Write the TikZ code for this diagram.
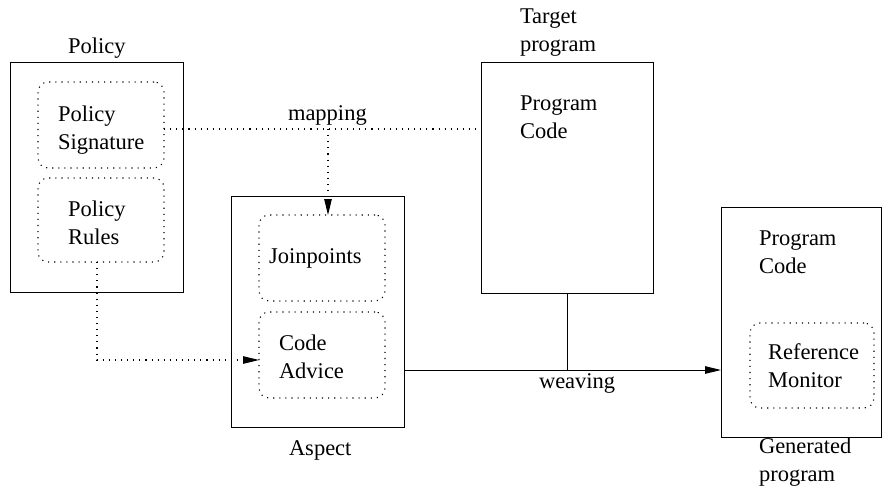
\documentclass[tikz,border=0pt]{standalone}
\usepackage{fontspec}
\setmainfont{Liberation Serif}
\usetikzlibrary{arrows.meta}
\begin{document}
\begin{tikzpicture}[x=1pt,y=-1pt,
  box/.style={draw, line width=1pt, inner sep=0pt, outer sep=0pt},
  dbox/.style={draw, line width=1.1pt, dash pattern=on 1.1pt off 5pt, rounded corners=10pt, inner sep=0pt, outer sep=0pt},
  dline/.style={line width=1.1pt, dash pattern=on 1.1pt off 5pt},
  sline/.style={line width=1pt},
  tip/.style={-{Triangle[length=16pt,width=7.5pt]}},
  lbl/.style={anchor=base west, inner sep=0pt, outer sep=0pt, align=left, font=\fontsize{22.5}{28}\selectfont}]
\useasboundingbox (0,0) rectangle (883,488);
% boxes
\node[box, minimum width=173pt, minimum height=230pt] (policy) at (96.5,177) {};
\node[dbox, minimum width=126pt, minimum height=86pt] (sig) at (101,125) {};
\node[dbox, minimum width=126pt, minimum height=84pt] (rules) at (101,220) {};
\node[box, minimum width=173pt, minimum height=231pt] (aspect) at (317.5,311.5) {};
\node[dbox, minimum width=126pt, minimum height=86pt] (join) at (322,258) {};
\node[dbox, minimum width=126pt, minimum height=86pt] (advice) at (322,355) {};
\node[box, minimum width=172pt, minimum height=231pt] (target) at (567,177.5) {};
\node[box, minimum width=160pt, minimum height=230pt] (gen) at (801,322) {};
\node[dbox, minimum width=124pt, minimum height=85pt] (refmon) at (812,365.5) {};
% labels (anchor = baseline of the last line)
\node[lbl] (tpolicy) at (68,53) {Policy};
\node[lbl] (tsig) at (58,149) {Policy\\Signature};
\node[lbl] (trules) at (68,244) {Policy\\Rules};
\node[lbl] (tmap) at (288,120) {mapping};
\node[lbl] (ttarget) at (520,51) {Target\\program};
\node[lbl] (tcode1) at (520,138) {Program\\Code};
\node[lbl] (tjoin) at (269,263) {Joinpoints};
\node[lbl] (tadvice) at (279,378) {Code\\Advice};
\node[lbl] (taspect) at (289,455) {Aspect};
\node[lbl] (tweave) at (539,388) {weaving};
\node[lbl] (tcode2) at (759,273) {Program\\Code};
\node[lbl] (tref) at (768,387) {Reference\\Monitor};
\node[lbl] (tgen) at (759,481) {Generated\\program};
% connectors
\coordinate (m0) at ([yshift=-4pt]sig.east);
\draw[dline] (m0) -- (m0 -| target.west);
\coordinate (mc) at (328,129);
\draw[dline, tip] (mc) -- (mc |- join.north);
\coordinate (r0) at ([xshift=-4pt]rules.south);
\coordinate (a0) at ([yshift=-5pt]advice.west);
\draw[dline, tip] (r0) |- (a0);
\coordinate (w0) at (404,370);
\draw[sline, tip] (w0) -- (w0 -| gen.west);
\draw[sline] (target.south) -- (target.south |- w0);
\end{tikzpicture}
\end{document}
